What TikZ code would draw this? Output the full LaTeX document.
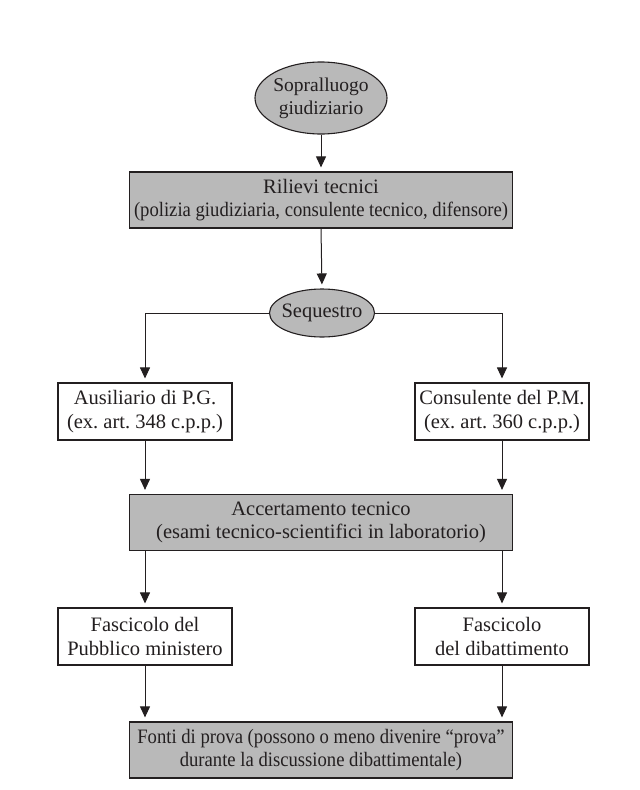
\documentclass[tikz,border=0pt]{standalone}
\usepackage{fontspec}
\usepackage{graphicx}
\setmainfont{Liberation Serif}
\usetikzlibrary{arrows.meta,shapes.geometric}
\definecolor{boxgray}{RGB}{185,185,185}
\definecolor{ink}{RGB}{35,31,32}
\newcommand{\squeeze}[1]{\scalebox{0.91}[1]{#1}}
\begin{document}
\frenchspacing
\begin{tikzpicture}[x=1pt,y=-1pt,
  every node/.style={font=\fontsize{20.5}{23.5}\selectfont, text=ink, align=center, inner sep=0pt},
  greybox/.style={draw=ink, line width=1.2pt, fill=boxgray, minimum width=383pt, minimum height=56pt},
  whitebox/.style={draw=ink, line width=1.1pt, fill=white, minimum width=174pt, minimum height=57pt},
  oval/.style={ellipse, draw=ink, line width=1.1pt, fill=boxgray, inner xsep=-12pt, inner ysep=-5pt},
  conn/.style={draw=ink, line width=1pt, -{Triangle[length=11pt,width=10pt]}, shorten >=4pt}
]
\useasboundingbox (0,0) rectangle (640,790);
\node[oval, minimum width=132pt, minimum height=72pt, font=\fontsize{19.5}{23}\selectfont] (e1) at (321,98) {Sopralluogo\\giudiziario};
\node[greybox] (r1) at (321,200) {Rilievi tecnici\\\squeeze{(polizia giudiziaria, consulente tecnico, difensore)}};
\node[oval, minimum width=105pt, minimum height=48pt] (e2) at (322,313) {Sequestro};
\node[whitebox] (b1) at (145,411.5) {Ausiliario di P.G.\\(ex. art. 348 c.p.p.)};
\node[whitebox] (b2) at (502,411.5) {Consulente del P.M.\\(ex. art. 360 c.p.p.)};
\node[greybox] (r2) at (321,522.5) {Accertamento tecnico\\(esami tecnico-scientifici in laboratorio)};
\node[whitebox] (f1) at (145,636.5) {Fascicolo del\\Pubblico ministero};
\node[whitebox] (f2) at (502,636.5) {Fascicolo\\del dibattimento};
\node[greybox] (r3) at (321,750) {\squeeze{Fonti di prova (possono o meno divenire “prova”}\\\squeeze{durante la discussione dibattimentale)}};
\draw[conn] (e1.south) -- (r1.north);
\draw[conn] (r1.south) -- (e2.north);
\draw[conn] (e2.west) -| (b1.north);
\draw[conn] (e2.east) -| (b2.north);
\draw[conn] (b1.south) -- (b1.south |- r2.north);
\draw[conn] (b2.south) -- (b2.south |- r2.north);
\draw[conn] (b1.south |- r2.south) -- (f1.north);
\draw[conn] (b2.south |- r2.south) -- (f2.north);
\draw[conn] (f1.south) -- (f1.south |- r3.north);
\draw[conn] (f2.south) -- (f2.south |- r3.north);
\end{tikzpicture}
\end{document}
